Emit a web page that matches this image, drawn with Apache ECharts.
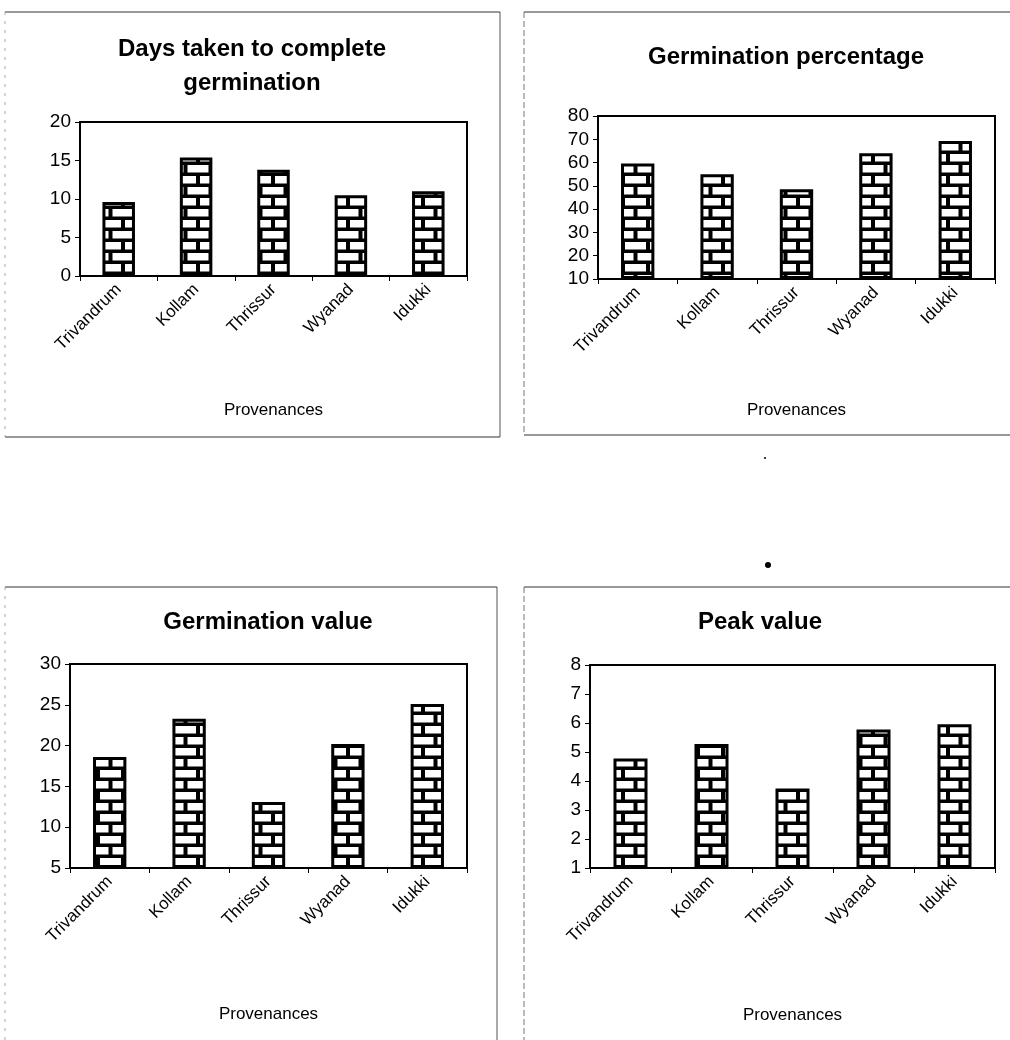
<!DOCTYPE html>
<html><head><meta charset="utf-8">
<script src="https://cdn.jsdelivr.net/npm/echarts@6/dist/echarts.min.js"></script>
<style>html,body{margin:0;padding:0;background:#fff}#c{width:1010px;height:1040px}</style>
</head><body><div id="c"></div>
<script>
const categories = ['Trivandrum','Kollam','Thrissur','Wyanad','Idukki'];
const daysToComplete = [9.6, 15.4, 13.8, 10.5, 11.0];
const germPercentage = [59.6, 55.0, 48.5, 64.0, 69.3];
const germValue = [18.6, 23.3, 13.1, 20.2, 25.1];
const peakValue = [4.78, 5.28, 3.74, 5.78, 5.96];
const titles = ['Days taken to complete\ngermination','Germination percentage','Germination value','Peak value'];
const axisName = 'Provenances';

function brick(){
  const c=document.createElement('canvas'); c.width=25; c.height=22;
  const g=c.getContext('2d');
  g.fillStyle='#000'; g.fillRect(0,0,25,22);
  g.fillStyle='#fff';
  g.fillRect(0,0,21,7.5);
  g.fillRect(12.5,11,12.5,7.5); g.fillRect(0,11,8.5,7.5);
  return c;
}
const pat = {image: brick(), repeat: 'repeat'};
const FF = 'Liberation Sans, Arial, sans-serif';

const grids = [
  {left:80, top:122, width:387, height:154},
  {left:598, top:116, width:397, height:163},
  {left:70, top:664, width:397, height:204},
  {left:590, top:665, width:405, height:203}
];
const yCfg = [
  {min:0,max:20,interval:5},
  {min:10,max:80,interval:10},
  {min:5,max:30,interval:5},
  {min:1,max:8,interval:1}
];
const nameGaps = [126, 123, 138, 139];
const datasets = [daysToComplete, germPercentage, germValue, peakValue];

const chart = echarts.init(document.getElementById('c'), null, {renderer:'canvas'});
const option = {
  backgroundColor:'#fff',
  animation:false,
  grid: grids.map(g=>Object.assign({show:true,borderColor:'#000',borderWidth:2,containLabel:false},g)),
  xAxis: grids.map((g,i)=>({
    type:'category', gridIndex:i, data:categories,
    axisLine:{show:true,lineStyle:{color:'#000',width:2}},
    axisTick:{show:true,length:5,lineStyle:{color:'#000',width:1}},
    axisLabel:{rotate:45,color:'#000',fontSize:17,fontFamily:FF,margin:11,interval:0},
    name:axisName, nameLocation:'middle', nameGap:nameGaps[i],
    nameTextStyle:{color:'#000',fontSize:17,fontFamily:FF}
  })),
  yAxis: grids.map((g,i)=>({
    type:'value', gridIndex:i, min:yCfg[i].min, max:yCfg[i].max, interval:yCfg[i].interval,
    startValue:yCfg[i].min,
    axisLine:{show:true,lineStyle:{color:'#000',width:2}},
    axisTick:{show:true,length:5,lineStyle:{color:'#000',width:1}},
    splitLine:{show:false},
    axisLabel:{color:'#000',fontSize:19,fontFamily:FF,margin:9}
  })),
  series: datasets.map((d,i)=>({
    type:'bar', xAxisIndex:i, yAxisIndex:i, data:d, barWidth:'42%', clip:true,
    itemStyle:{color:pat,borderColor:'#000',borderWidth:3}
  })),
  graphic: [
    {type:'line',shape:{x1:5,y1:12,x2:500,y2:12},style:{stroke:'#333',lineWidth:1}},
    {type:'line',shape:{x1:500,y1:12,x2:500,y2:437},style:{stroke:'#555',lineWidth:1}},
    {type:'line',shape:{x1:5,y1:437,x2:500,y2:437},style:{stroke:'#333',lineWidth:1}},
    {type:'line',shape:{x1:5,y1:12,x2:5,y2:437},style:{stroke:'#aaa',lineWidth:1,lineDash:[3,6]}},
    {type:'line',shape:{x1:524,y1:12,x2:1010,y2:12},style:{stroke:'#333',lineWidth:1}},
    {type:'line',shape:{x1:524,y1:12,x2:524,y2:435},style:{stroke:'#777',lineWidth:1,lineDash:[6,3]}},
    {type:'line',shape:{x1:524,y1:435,x2:1010,y2:435},style:{stroke:'#333',lineWidth:1}},
    {type:'line',shape:{x1:5,y1:587,x2:497,y2:587},style:{stroke:'#333',lineWidth:1}},
    {type:'line',shape:{x1:497,y1:587,x2:497,y2:1040},style:{stroke:'#555',lineWidth:1}},
    {type:'line',shape:{x1:5,y1:587,x2:5,y2:1040},style:{stroke:'#aaa',lineWidth:1,lineDash:[3,6]}},
    {type:'line',shape:{x1:524,y1:587,x2:1010,y2:587},style:{stroke:'#333',lineWidth:1}},
    {type:'line',shape:{x1:524,y1:587,x2:524,y2:1040},style:{stroke:'#777',lineWidth:1,lineDash:[6,3]}},
    {type:'text',x:252,y:32,style:{text:titles[0],font:'bold 24px '+FF,fill:'#000',textAlign:'center',textVerticalAlign:'top',lineHeight:34}},
    {type:'text',x:786,y:57,style:{text:titles[1],font:'bold 24px '+FF,fill:'#000',textAlign:'center',textVerticalAlign:'middle'}},
    {type:'text',x:268,y:622,style:{text:titles[2],font:'bold 24px '+FF,fill:'#000',textAlign:'center',textVerticalAlign:'middle'}},
    {type:'text',x:760,y:622,style:{text:titles[3],font:'bold 24px '+FF,fill:'#000',textAlign:'center',textVerticalAlign:'middle'}},
    {type:'circle',shape:{cx:768,cy:565,r:3},style:{fill:'#000'}},
    {type:'circle',shape:{cx:765,cy:458,r:1},style:{fill:'#000'}}
  ]
};
chart.setOption(option);
</script></body></html>
